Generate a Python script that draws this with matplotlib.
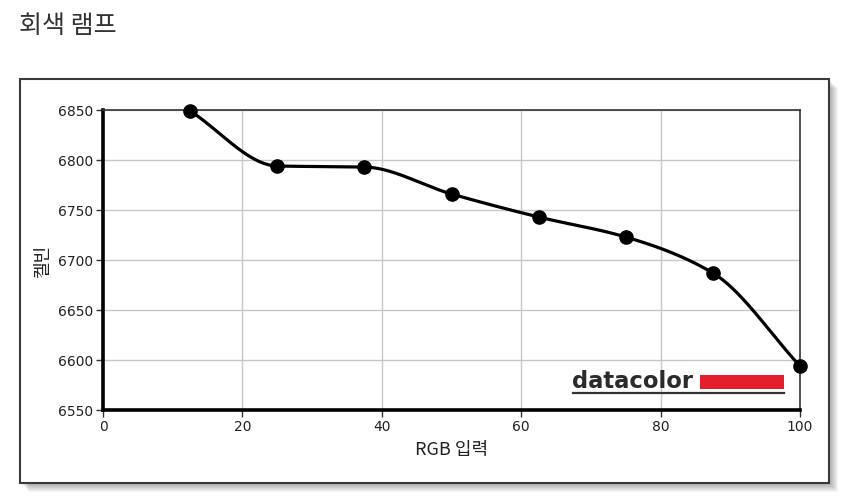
import matplotlib
matplotlib.use("Agg")
import matplotlib.pyplot as plt
import numpy as np
from matplotlib.patches import Rectangle
from matplotlib.lines import Line2D

rgb_input = [12.5, 25, 37.5, 50, 62.5, 75, 87.5, 100]
kelvin = [6849, 6794, 6793, 6766, 6743, 6723, 6687, 6594]
x_ticks = [0, 20, 40, 60, 80, 100]
y_ticks = [6550, 6600, 6650, 6700, 6750, 6800, 6850]

W, H = 850, 504


def fx(px):
    return px / W


def fy(py):
    return 1 - py / H


def smooth(xs, ys, n=40):
    # monotone cubic (Fritsch-Carlson) curve through the points, only for drawing
    xs = np.asarray(xs, float)
    ys = np.asarray(ys, float)
    hk = np.diff(xs)
    dk = np.diff(ys) / hk
    m = np.zeros(len(xs))
    for i in range(1, len(xs) - 1):
        if dk[i - 1] * dk[i] > 0:
            w1 = 2 * hk[i] + hk[i - 1]
            w2 = hk[i] + 2 * hk[i - 1]
            m[i] = (w1 + w2) / (w1 / dk[i - 1] + w2 / dk[i])
    m[0] = dk[0]
    m[-1] = dk[-1]
    out_x, out_y = [], []
    t = np.linspace(0, 1, n)
    h00 = 2 * t**3 - 3 * t**2 + 1
    h10 = t**3 - 2 * t**2 + t
    h01 = -2 * t**3 + 3 * t**2
    h11 = t**3 - t**2
    for i in range(len(xs) - 1):
        out_x.append(xs[i] + t * hk[i])
        out_y.append(h00 * ys[i] + h10 * hk[i] * m[i] + h01 * ys[i + 1] + h11 * hk[i] * m[i + 1])
    return np.concatenate(out_x), np.concatenate(out_y)


fig = plt.figure(figsize=(W / 100, H / 100), dpi=100)
fig.patch.set_facecolor("white")

# title
fig.text(fx(19), fy(26), "회색 램프", family=["Noto Sans CJK KR", "DejaVu Sans"],
         fontsize=18, color="#333333", ha="left", va="center")

# outer panel with soft shadow
bx0, by0, bx1, by1 = 19.5, 79, 829, 483
for i in range(9, 0, -1):
    fig.patches.append(Rectangle((fx(bx0 + i), fy(by1 + i)), (bx1 - bx0) / W, (by1 - by0) / H,
                                 transform=fig.transFigure, facecolor="#000000",
                                 edgecolor="none", alpha=0.04, zorder=0))
fig.patches.append(Rectangle((fx(bx0), fy(by1)), (bx1 - bx0) / W, (by1 - by0) / H,
                             transform=fig.transFigure, facecolor="white",
                             edgecolor="#3a3a3a", linewidth=1.5, zorder=1))

ax = fig.add_axes([fx(103), fy(410), (800 - 103) / W, (410 - 110) / H])
ax.set_zorder(2)
ax.set_facecolor("white")

cx, cy = smooth(rgb_input, kelvin)
ax.plot(cx, cy, color="black", linewidth=2.3, solid_capstyle="round", zorder=3)
ax.plot(rgb_input, kelvin, "o", color="black", markersize=9.5, zorder=4, clip_on=False)

ax.set_xlim(0, 100)
ax.set_ylim(6550, 6850)
ax.set_xticks(x_ticks)
ax.set_yticks(y_ticks)
ax.grid(True, color="#c8c8c8", linewidth=1)
ax.set_axisbelow(True)

for side in ("left", "bottom"):
    ax.spines[side].set_linewidth(2.6)
    ax.spines[side].set_color("black")
for side in ("top", "right"):
    ax.spines[side].set_linewidth(1.2)
    ax.spines[side].set_color("#333333")

ax.tick_params(axis="both", length=5, width=1, color="#333333", labelsize=10,
               labelcolor="#222222", pad=2)

ax.set_xlabel("RGB 입력", family=["Noto Sans CJK KR", "DejaVu Sans"], fontsize=13,
              color="#222222", labelpad=5)
ax.set_ylabel("켈빈", family=["Noto Sans CJK KR", "DejaVu Sans"], fontsize=13,
              color="#222222", labelpad=4)

# datacolor mark
fig.text(fx(572), fy(388), "datacolor", fontsize=16.3, fontweight="bold",
         color="#2b2b2b", ha="left", va="baseline", zorder=5)
fig.patches.append(Rectangle((fx(700), fy(389)), 84 / W, 14 / H, transform=fig.transFigure,
                             facecolor="#e41e2b", edgecolor="none", zorder=5))
fig.lines.append(Line2D([fx(573), fx(784)], [fy(392.5), fy(392.5)], transform=fig.transFigure,
                        color="#333333", linewidth=1.6, zorder=5))

fig.savefig("out.png", dpi=100)
